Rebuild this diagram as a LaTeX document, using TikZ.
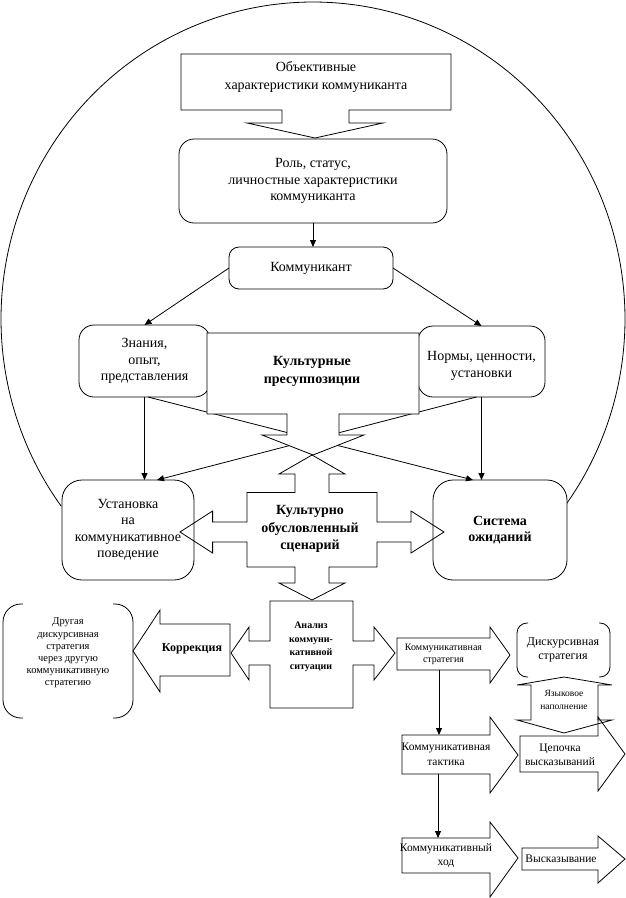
\documentclass[tikz,border=0pt]{standalone}
\usepackage{fontspec}
\setmainfont{Liberation Serif}
\usetikzlibrary{arrows.meta,calc}
\begin{document}
\begin{tikzpicture}[x=1pt,y=-1pt, line width=0.8pt, line join=miter,
  every node/.style={inner sep=0pt, outer sep=0pt, align=center},
  rbox/.style={draw, fill=white, rounded corners=#1},
  shp/.style={draw, fill=white},
  arr/.style={-{Triangle[length=7pt,width=6pt]}},
  fmain/.style={font=\fontsize{14}{16.5}\selectfont},
  fbold/.style={font=\fontsize{14}{17.5}\selectfont\bfseries},
  fsmall/.style={font=\fontsize{10.5}{12.2}\selectfont},
  fmid/.style={font=\fontsize{11.5}{14.5}\selectfont}]
\useasboundingbox (0,0) rectangle (626,898);

% big enclosing arc
\draw plot[domain=143.8:395.9, samples=150, smooth] ({313+312*cos(\x)},{319+317*sin(\x)});

% top block arrow
\draw[shp] (181,54) -- (451,54) -- (451,110) -- (349,110) -- (349,123) -- (383,123) -- (315,138) -- (247,123) -- (282,123) -- (282,110) -- (181,110) -- cycle;
\node[font=\fontsize{14}{18}\selectfont] (obj) at (316,77) {Объективные\\характеристики коммуниканта};

\node[rbox=15pt, minimum width=268pt, minimum height=84pt, fmain] (rol) at (313,181) {Роль, статус,\\личностные характеристики\\коммуниканта};
\node[rbox=10pt, minimum width=164pt, minimum height=42pt, fmain] (komm) at (311,268) {Коммуникант};
\node[rbox=15pt, minimum width=131pt, minimum height=72pt, fmain] (znan) at (144.5,361) {Знания,\\опыт,\\представления};
\node[rbox=15pt, minimum width=127pt, minimum height=71pt] (norm) at (481.5,361.5) {};
\node[fmain] (normt) at (481.5,366) {Нормы, ценности,\\установки};
\node[rbox=20pt, minimum width=132pt, minimum height=100pt, fmain] (ust) at (128,530) {Установка\\на\\коммуникативное\\поведение};
\node[rbox=20pt, minimum width=134pt, minimum height=100pt, font=\fontsize{14}{16.5}\selectfont\bfseries] (sys) at (500,530) {Система\\ожиданий};

\draw[arr] (rol.south) -- (rol.south |- komm.north);
\draw[arr] (komm.west) -- (znan.north);
\draw[arr] (komm.east) -- (norm.north);
\draw[arr] (znan.south) -- (znan.south |- ust.north);
\draw[arr] (norm.south) -- (norm.south |- sys.north);
\draw[arr] ([xshift=3.5pt]znan.south) -- ([xshift=-27pt]sys.north);
\draw[arr] ([xshift=-5pt]norm.south) -- ([xshift=29pt]ust.north);

% cultural presuppositions block arrow
\draw[shp] (207,333) -- (419,333) -- (419,414) -- (339,414) -- (339,435) -- (364,435) -- (313,455) -- (262,435) -- (287,435) -- (287,414) -- (207,414) -- cycle;
\node[font=\fontsize{14}{18}\selectfont\bfseries] (kult) at (312,371) {Культурные\\пресуппозиции};

% cross shape
\draw (312,455) -- (345,474) -- (329,474) -- (329,492.5) -- (377,492.5) -- (377,522) -- (411,522) -- (411,511) -- (444,532) -- (411,553) -- (411,542) -- (377,542) -- (377,567) -- (329,567) -- (329,583) -- (345,583) -- (312,600) -- (279,583) -- (295,583) -- (295,567) -- (247,567) -- (247,542) -- (212.6,542) -- (212.6,553) -- (180,532) -- (212.6,511) -- (212.6,522) -- (247,522) -- (247,492.5) -- (295,492.5) -- (295,474) -- (279,474) -- cycle;
\node[fbold] (scen) at (310,529) {Культурно\\обусловленный\\сценарий};

% analysis shape
\draw (270,601) -- (353,601) -- (353,641) -- (374,641) -- (374,627) -- (395,653) -- (374,680) -- (374,665) -- (353,665) -- (353,708) -- (270,708) -- (270,665) -- (249,665) -- (249,680) -- (231,653) -- (249,627) -- (249,641) -- (270,641) -- cycle;
\node[font=\fontsize{10}{13.5}\selectfont\bfseries] (anal) at (311,647) {Анализ\\коммуни-\\кативной\\ситуации};

% correction arrow
\draw (230,624) -- (230,676) -- (160,676) -- (160,692) -- (133,651) -- (160,610) -- (160,624) -- cycle;
\node[font=\fontsize{12}{14}\selectfont\bfseries] (korr) at (192,649) {Коррекция};

% other discursive strategy (double bracket)
\draw[rounded corners=18pt] (23,604) -- (3,604) -- (3,718) -- (23,718);
\draw[rounded corners=18pt] (113,604) -- (133,604) -- (133,718) -- (113,718);
\node[fsmall] (other) at (68,653) {Другая\\дискурсивная\\стратегия\\через другую\\коммуникативную\\стратегию};

% communicative strategy arrow
\draw (397,638) -- (490,638) -- (490,627) -- (510,655) -- (490,683) -- (490,670) -- (397,670) -- cycle;
\node[font=\fontsize{10}{12}\selectfont, minimum width=93pt, minimum height=32pt] (strat) at (443.5,654) {Коммуникативная\\стратегия};

% discursive strategy (double bracket)
\draw[rounded corners=10pt] (528,623) -- (517,623) -- (517,677) -- (528,677);
\draw[rounded corners=10pt] (599,623) -- (610,623) -- (610,677) -- (599,677);
\node[font=\fontsize{12}{13.7}\selectfont] (disk) at (563,650) {Дискурсивная\\стратегия};

% language filling up-down arrow
\draw (564,677) -- (612,685) -- (598,685) -- (598,720) -- (612,720) -- (564,733) -- (517,720) -- (531,720) -- (531,685) -- (517,685) -- cycle;
\node[font=\fontsize{9.5}{13.5}\selectfont] (yaz) at (564,700) {Языковое\\наполнение};

% tactic arrow
\draw (402,735) -- (490,735) -- (490,717) -- (518,755) -- (490,793) -- (490,774) -- (402,774) -- cycle;
\node[fmid, minimum width=88pt, minimum height=39pt] (takt) at (446,754.5) {Коммуникативная\\тактика};

% chain arrow
\draw (520,736) -- (598,736) -- (598,717) -- (625,754) -- (598,791) -- (598,772) -- (520,772) -- cycle;
\node[font=\fontsize{11.5}{14}\selectfont] (chain) at (560,755) {Цепочка\\высказываний};

% move arrow
\draw (402,838) -- (490,838) -- (490,822) -- (518,858) -- (490,897) -- (490,873) -- (402,873) -- cycle;
\node[fmid, minimum width=88pt, minimum height=35pt] (hod) at (446,855.5) {Коммуникативный\\ход};

% utterance arrow
\draw (522,848) -- (598,848) -- (598,836) -- (625,859) -- (598,883) -- (598,870) -- (522,870) -- cycle;
\node[fmid] (vysk) at (561,859) {Высказывание};

\coordinate (s1) at ([xshift=-4.5pt]strat.south);
\draw[arr] (s1) -- (s1 |- takt.north);
\coordinate (s2) at ([xshift=-8pt]takt.south);
\draw[arr] (s2) -- (s2 |- hod.north);
\end{tikzpicture}
\end{document}
